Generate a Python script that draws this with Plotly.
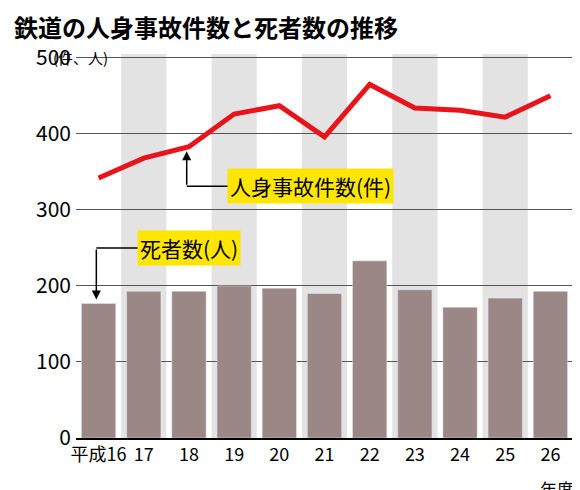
import plotly.graph_objects as go

years = ["平成16","17","18","19","20","21","22","23","24","25","26"]
incidents = [342, 368, 383, 426, 437, 396, 465, 434, 431, 422, 450]
deaths = [177, 193, 193, 200, 197, 190, 233, 195, 172, 184, 193]
yticks = [0, 100, 200, 300, 400, 500]

xs = list(range(len(years)))
fig = go.Figure()
shapes = []
for i in xs:
    if i % 2 == 1:
        shapes.append(dict(type="rect", xref="x", yref="y", x0=i-0.5, x1=i+0.5, y0=0, y1=505,
                           fillcolor="#e3e3e3", line_width=0, layer="below"))
fig.add_trace(go.Bar(x=xs, y=deaths, marker_color="#9b8886", width=0.76))
fig.add_trace(go.Scatter(x=xs, y=incidents, mode="lines", line=dict(color="#e8141b", width=5)))

shapes.append(dict(type="line", xref="x", yref="y", x0=1.95, x1=2.9, y0=331, y1=331, line=dict(color="black", width=1.5)))
shapes.append(dict(type="line", xref="x", yref="y", x0=-0.05, x1=0.9, y0=250, y1=250, line=dict(color="black", width=1.5)))

annotations = [
    dict(x=1.95, y=377, ax=1.95, ay=331, xref="x", yref="y", axref="x", ayref="y", text="",
         showarrow=True, arrowhead=2, arrowsize=1.2, arrowwidth=1.5, arrowcolor="black"),
    dict(x=-0.05, y=182, ax=-0.05, ay=250, xref="x", yref="y", axref="x", ayref="y", text="",
         showarrow=True, arrowhead=2, arrowsize=1.2, arrowwidth=1.5, arrowcolor="black"),
    dict(x=2.85, y=331, xref="x", yref="y", xanchor="left", text="人身事故件数(件)", showarrow=False,
         bgcolor="#ffe600", font=dict(size=21, color="black", family="Noto Sans CJK JP"), borderpad=2),
    dict(x=0.85, y=250, xref="x", yref="y", xanchor="left", text="死者数(人)", showarrow=False,
         bgcolor="#ffe600", font=dict(size=21, color="black", family="Noto Sans CJK JP"), borderpad=2),
    dict(x=-0.05, y=500, xref="paper", yref="y", xanchor="left", yanchor="middle",
         text="(件、人)", showarrow=False, font=dict(size=15, color="black", family="Noto Sans CJK JP")),
    dict(x=10.15, y=0, xref="x", yref="paper", yanchor="top", yshift=-36, text="年度", showarrow=False,
         font=dict(size=17, color="black", family="Noto Sans CJK JP")),
    dict(x=0, y=1, xref="paper", yref="paper", xanchor="left", yanchor="bottom", xshift=-64, yshift=8,
         text="<b>鉄道の人身事故件数と死者数の推移</b>", showarrow=False,
         font=dict(size=24, color="black", family="Noto Sans CJK JP")),
]

fig.update_layout(
    width=580, height=490, margin=dict(l=68, r=15, t=46, b=60),
    paper_bgcolor="white", plot_bgcolor="white", showlegend=False,
    shapes=shapes, annotations=annotations,
    font=dict(family="Noto Sans CJK JP", color="black"),
    xaxis=dict(tickvals=xs, ticktext=years, range=[-0.5, 10.5], tickfont=dict(size=18),
               showgrid=False, showline=True, linecolor="black", linewidth=1.5, ticks=""),
    yaxis=dict(range=[0, 505], tickvals=yticks, tickfont=dict(size=21), showgrid=True,
               gridcolor="#555", gridwidth=1, zeroline=False, ticks="", ticklabelstandoff=4,
               layer="above traces"),
)
fig.write_html("out.html")
